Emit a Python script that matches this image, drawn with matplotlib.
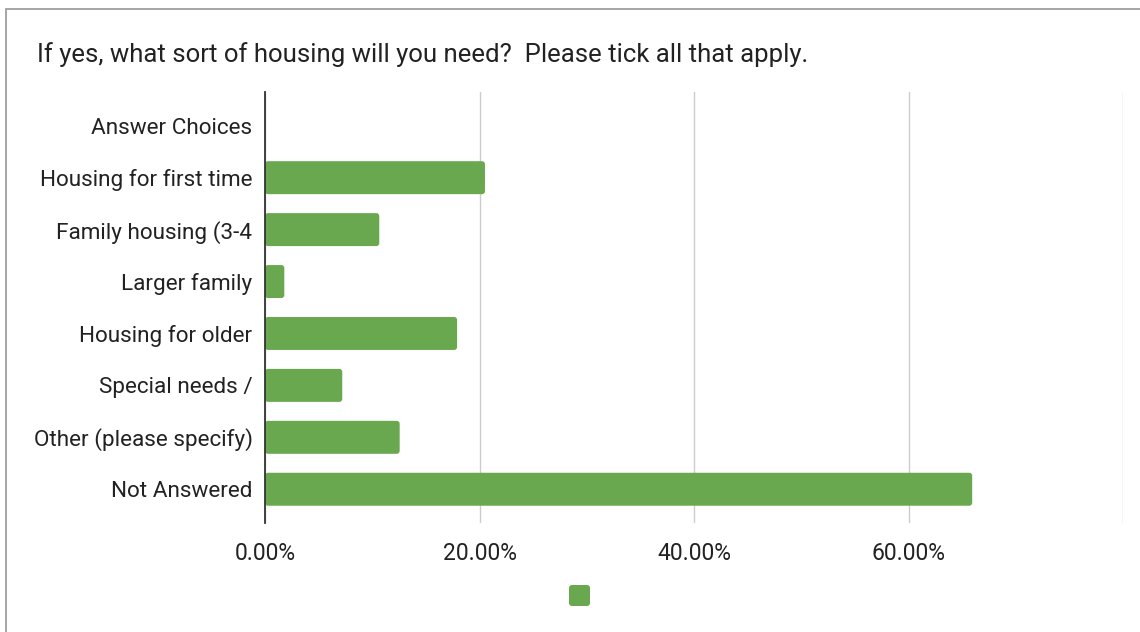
import matplotlib
matplotlib.use("Agg")
import matplotlib.pyplot as plt
from matplotlib.patches import FancyBboxPatch, Rectangle

plt.rcParams["font.family"] = ["Roboto", "DejaVu Sans"]

# Survey responses (share of respondents, %)
categories = [
    "Answer Choices",
    "Housing for first time",
    "Family housing (3-4",
    "Larger family",
    "Housing for older",
    "Special needs /",
    "Other (please specify)",
    "Not Answered",
]
values = [0.0, 20.5, 10.65, 1.8, 17.9, 7.2, 12.55, 65.9]
x_ticks = [0, 20, 40, 60, 80]
x_tick_labels = ["0.00%", "20.00%", "40.00%", "60.00%", ""]
title = "If yes, what sort of housing will you need?  Please tick all that apply."

BAR_COLOR = "#6aa84f"
TEXT_COLOR = "#222222"
GRID_COLOR = "#cccccc"

W, H = 1140, 632
fig = plt.figure(figsize=(W / 100, H / 100), dpi=100)
fig.patch.set_facecolor("white")

# chart frame (left and top edges visible)
fig.patches.append(Rectangle((6 / W, -0.1), 1.2, 1 - 9 / H + 0.1,
                             transform=fig.transFigure, fill=False,
                             edgecolor="#9e9e9e", linewidth=1.3, zorder=0))

ax = fig.add_axes([265 / W, 1 - 523 / H, (1123.5 - 265) / W, (523 - 92) / H])
ypos = list(range(len(categories)))
bars = ax.barh(ypos, values, height=0.635, color=BAR_COLOR, zorder=3)

ax.set_xlim(0, 80)
ax.set_ylim(len(categories) - 1 + 0.65, -0.65)

# swap plain rectangles for slightly rounded ones
px_per_x = (1123.5 - 265) / 80
px_per_y = (523 - 92) / (len(categories) - 1 + 1.3)
for b in bars:
    x0, y0, w, h = b.get_x(), b.get_y(), b.get_width(), b.get_height()
    b.set_visible(False)
    if w <= 0:
        continue
    p = FancyBboxPatch((x0, y0), w, h,
                       boxstyle=f"round,pad=0,rounding_size={3 / px_per_x}",
                       mutation_aspect=px_per_x / px_per_y,
                       facecolor=BAR_COLOR, edgecolor="none", zorder=3)
    ax.add_patch(p)

ax.set_xticks(x_ticks)
ax.set_xticklabels(x_tick_labels)
ax.set_yticks(ypos)
ax.set_yticklabels(categories)
ax.tick_params(axis="both", length=0, colors=TEXT_COLOR)
ax.tick_params(axis="x", pad=13.5, labelsize=16.5)
ax.tick_params(axis="y", pad=9, labelsize=16.2)

ax.grid(axis="x", color=GRID_COLOR, linewidth=1, zorder=0)
for s in ("top", "right", "bottom"):
    ax.spines[s].set_visible(False)
ax.spines["left"].set_color("#333333")
ax.spines["left"].set_linewidth(1.3)
ax.spines["left"].set_zorder(5)

fig.text(37 / W, 1 - 55 / H, title, fontsize=18.5, color=TEXT_COLOR,
         ha="left", va="center")

# legend swatch for the single (unnamed) series
fig.patches.append(FancyBboxPatch((569 / W, 1 - 606 / H), 21 / W, 21 / H,
                                  boxstyle=f"round,pad=0,rounding_size={3 / W}",
                                  mutation_aspect=W / H,
                                  transform=fig.transFigure,
                                  facecolor=BAR_COLOR, edgecolor="none"))

fig.savefig("out.png", dpi=100)
